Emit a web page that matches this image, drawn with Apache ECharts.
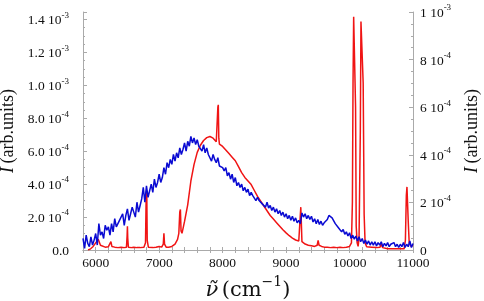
<!DOCTYPE html>
<html>
<head>
<meta charset="utf-8">
<script src="https://cdn.jsdelivr.net/npm/echarts@6/dist/echarts.min.js"></script>
<style>
  html, body { margin: 0; padding: 0; background: #fff; }
  #main { width: 484px; height: 301px; }
</style>
</head>
<body>
<div id="main"></div>
<script>
// blue spectrum, left axis, units of 1e-4, sampled every 25 cm-1 from 5800
var blueStart = 5800;
var blueStep = 25;
var blueValues = [
    0.7, 0.1, 0.9, 0.4, 0.2, 0.8, 0.3, 0.6,
    1.0, 0.3, 1.6, 0.9, 1.1, 0.7, 1.5, 1.2,
    1.4, 0.9, 1.6, 1.1, 1.9, 1.4, 1.3, 1.8,
    1.7, 2.2, 1.5, 2.1, 2.5, 1.8, 2.2, 2.6,
    2.3, 2.0, 2.9, 2.3, 2.7, 3.1, 3.8, 2.9,
    3.9, 3.2, 3.6, 4.0, 3.5, 4.3, 3.8, 4.1,
    4.6, 4.1, 4.4, 5.0, 4.6, 5.3, 5.0, 5.5,
    5.2, 5.8, 5.4, 5.9, 5.6, 6.2, 5.8, 6.1,
    6.5, 6.0, 6.6, 6.3, 6.9, 6.5, 6.8, 6.4,
    6.7, 6.3, 6.4, 6.0, 6.4, 5.9, 6.2, 5.8,
    5.9, 5.4, 5.8, 5.5, 5.3, 5.6, 5.1, 5.2,
    5.0, 4.8, 5.0, 4.5, 4.7, 4.3, 4.6, 4.1,
    4.4, 3.9, 4.1, 3.8, 4.0, 3.6, 3.8, 3.5,
    3.7, 3.3, 3.5, 3.3, 3.4, 3.0, 3.2, 3.0,
    3.1, 2.8, 2.9, 2.6, 2.9, 2.55, 2.7, 2.4,
    2.6, 2.3, 2.5, 2.2, 2.4, 2.1, 2.3, 2.0,
    2.2, 1.9, 2.1, 1.8, 2.05, 1.75, 1.95, 1.65,
    1.8, 1.6, 2.25, 2.0, 2.2, 1.9, 2.1, 1.85,
    2.05, 1.7, 1.9, 1.6, 1.85, 1.55, 1.75, 1.5,
    1.65, 1.75, 1.85, 2.1, 2.2, 1.95, 1.85, 1.6,
    1.65, 1.35, 1.4, 1.1, 1.25, 0.95, 1.1, 0.85,
    1.05, 0.7, 0.9, 0.65, 0.85, 0.55, 0.8, 0.5,
    0.7, 0.4, 0.6, 0.35, 0.55, 0.3, 0.5, 0.3,
    0.5, 0.25, 0.45, 0.3, 0.5, 0.2, 0.4, 0.25,
    0.45, 0.2, 0.35, 0.3, 0.45, 0.2, 0.35, 0.15,
    0.35, 0.2, 0.45, 0.15, 0.35, 0.2, 0.55, 0.15,
    0.4
];

// red spectrum, right axis, units of 1e-4: [wavenumber, intensity]
var redPoints = [
    [5880, 0], [5920, 0.05], [5960, 0.15], [6000, 0.3], [6040, 0.45], [6060, 0.5], [6075, 0.2],
    [6100, 0.15], [6150, 0.12], [6200, 0.14], [6225, 0.2], [6240, 0.35], [6255, 0.15], [6300, 0.12],
    [6350, 0.1], [6400, 0.12], [6450, 0.1], [6485, 0.12], [6495, 0.6], [6500, 1.0], [6505, 0.5],
    [6515, 0.12], [6560, 0.1], [6600, 0.12], [6650, 0.1], [6700, 0.1], [6760, 0.12], [6785, 0.3],
    [6795, 2.2], [6800, 2.5], [6805, 2.4], [6812, 0.4], [6830, 0.12], [6900, 0.1], [6950, 0.12],
    [7000, 0.15], [7040, 0.12], [7065, 0.25], [7075, 0.7], [7085, 0.25], [7110, 0.12], [7150, 0.12],
    [7200, 0.15], [7250, 0.25], [7290, 0.45], [7310, 0.7], [7325, 1.6], [7335, 1.7], [7345, 0.8],
    [7360, 0.7], [7400, 1.2], [7450, 1.9], [7500, 2.9], [7550, 3.6], [7600, 4.1], [7650, 4.4],
    [7700, 4.6], [7750, 4.72], [7800, 4.77], [7850, 4.7], [7900, 4.55], [7915, 4.6], [7925, 6.0],
    [7932, 6.1], [7940, 4.7], [7950, 4.45], [8000, 4.35], [8050, 4.2], [8100, 4.05], [8150, 3.9],
    [8200, 3.75], [8250, 3.5], [8300, 3.25], [8350, 3.05], [8400, 2.9], [8450, 2.75], [8500, 2.5],
    [8550, 2.25], [8600, 2.05], [8650, 1.85], [8700, 1.65], [8750, 1.45], [8800, 1.3], [8850, 1.15],
    [8900, 1.0], [8950, 0.85], [9000, 0.72], [9050, 0.6], [9100, 0.5], [9150, 0.42], [9200, 0.38],
    [9220, 0.4], [9232, 1.8], [9240, 1.2], [9250, 0.35], [9300, 0.25], [9350, 0.2], [9400, 0.18],
    [9450, 0.15], [9490, 0.2], [9505, 0.4], [9520, 0.2], [9560, 0.15], [9600, 0.12], [9650, 0.12],
    [9700, 0.1], [9750, 0.12], [9800, 0.1], [9850, 0.12], [9900, 0.1], [9950, 0.12], [10000, 0.15],
    [10030, 0.3], [10045, 2.0], [10055, 7.0], [10065, 9.8], [10085, 9.8], [10095, 6.0], [10105, 1.0],
    [10120, 0.3], [10135, 0.15], [10150, 0.5], [10170, 5.0], [10180, 9.6], [10200, 9.6], [10215, 7.0],
    [10230, 1.5], [10245, 0.3], [10270, 0.14], [10350, 0.12], [10430, 0.1], [10480, 0.12], [10500, 0.25],
    [10520, 0.1], [10600, 0.05], [10700, 0.05], [10800, 0.05], [10860, 0.05], [10880, 0.4], [10895, 2.3],
    [10905, 2.65], [10915, 2.6], [10925, 1.2], [10940, 0.3], [10970, 0.15], [11000, 0.2]
];

// tick labels: [mantissa, exponent]
var leftTicks = {
    0: ['0.0', ''], 2: ['2.0 10', '-4'], 4: ['4.0 10', '-4'], 6: ['6.0 10', '-4'],
    8: ['8.0 10', '-4'], 10: ['1.0 10', '-3'], 12: ['1.2 10', '-3'], 14: ['1.4 10', '-3']
};
var rightTicks = {
    0: ['0', ''], 2: ['2 10', '-4'], 4: ['4 10', '-4'], 6: ['6 10', '-4'],
    8: ['8 10', '-4'], 10: ['1 10', '-3']
};

var blueData = blueValues.map(function (v, i) {
    return [blueStart + i * blueStep, v];
});

function tickFormatter(table) {
    return function (v) {
        var t = table[Math.round(v * 100) / 100];
        if (!t) return '';
        return t[1] ? '{n|' + t[0] + '}{e|' + t[1] + '}' : '{n|' + t[0] + '}';
    };
}

var serif = '"Liberation Serif", "Times New Roman", serif';
var frame = '#aaaaaa';
var labelRich = {
    n: { fontFamily: serif, fontSize: 13.5, color: '#111', lineHeight: 17, verticalAlign: 'bottom' },
    e: { fontFamily: serif, fontSize: 9, color: '#111', lineHeight: 17, verticalAlign: 'top' }
};
var nameRich = {
    i: { fontFamily: serif, fontSize: 18, fontStyle: 'italic', color: '#111' },
    t: { fontFamily: serif, fontSize: 18, color: '#111' }
};

var chart = echarts.init(document.getElementById('main'), null, { renderer: 'canvas' });

var option = {
    animation: false,
    backgroundColor: '#fff',
    grid: { left: 83, right: 71, top: 12, bottom: 51, outerBoundsMode: 'none', containLabel: false },
    xAxis: [{
        type: 'value',
        min: 5800,
        max: 11000,
        interval: 200,
        name: '{nu|ν\u0303} {t|(cm}{e|\u22121}{t|)}',
        nameLocation: 'middle',
        nameGap: 22,
        nameTextStyle: {
            rich: {
                nu: { fontFamily: 'DejaVu Serif', fontSize: 21, fontStyle: 'italic', color: '#111', lineHeight: 26, verticalAlign: 'bottom' },
                t: { fontFamily: 'DejaVu Serif', fontSize: 21, color: '#111', lineHeight: 26, verticalAlign: 'bottom' },
                e: { fontFamily: 'DejaVu Serif', fontSize: 14, color: '#111', lineHeight: 26, verticalAlign: 'top' }
            }
        },
        axisLine: { show: true, lineStyle: { color: frame, width: 1 } },
        axisTick: { show: true, inside: true, length: 3, lineStyle: { color: frame } },
        splitLine: { show: false },
        axisLabel: {
            margin: 6,
            fontFamily: serif,
            fontSize: 13.5,
            color: '#111',
            formatter: function (v) { return v % 1000 === 0 ? String(v) : ''; }
        }
    }, {
        type: 'value',
        position: 'top',
        min: 5800,
        max: 11000,
        interval: 200,
        axisLine: { show: true, lineStyle: { color: frame, width: 1 } },
        axisTick: { show: true, inside: true, length: 3, lineStyle: { color: frame } },
        axisLabel: { show: false },
        splitLine: { show: false }
    }],
    yAxis: [{
        type: 'value',
        position: 'left',
        min: 0,
        max: 14.45,
        interval: 2,
        name: '{i|I} {t|(arb.units)}',
        nameLocation: 'middle',
        nameRotate: 90,
        nameGap: 63,
        nameTextStyle: { rich: nameRich },
        axisLine: { show: true, lineStyle: { color: frame, width: 1 } },
        axisTick: { show: true, inside: true, length: 4, lineStyle: { color: frame } },
        minorTick: { show: true, splitNumber: 4, length: 2, lineStyle: { color: frame } },
        splitLine: { show: false },
        axisLabel: {
            margin: 14,
            showMaxLabel: false,
            formatter: tickFormatter(leftTicks),
            rich: labelRich
        }
    }, {
        type: 'value',
        position: 'right',
        min: 0,
        max: 10,
        interval: 2,
        name: '{i|I} {t|(arb.units)}',
        nameLocation: 'middle',
        nameRotate: 90,
        nameGap: 50,
        nameTextStyle: { rich: nameRich },
        axisLine: { show: true, lineStyle: { color: frame, width: 1 } },
        axisTick: { show: true, inside: true, length: 4, lineStyle: { color: frame } },
        minorTick: { show: true, splitNumber: 4, length: 2, lineStyle: { color: frame } },
        splitLine: { show: false },
        axisLabel: {
            margin: 7,
            formatter: tickFormatter(rightTicks),
            rich: labelRich
        }
    }],
    series: [{
        name: 'blue',
        type: 'line',
        xAxisIndex: 0,
        yAxisIndex: 0,
        data: blueData,
        showSymbol: false,
        symbol: 'none',
        lineStyle: { color: '#0a0ad2', width: 1.5 },
        clip: true,
        z: 3
    }, {
        name: 'red',
        type: 'line',
        xAxisIndex: 0,
        yAxisIndex: 1,
        data: redPoints,
        showSymbol: false,
        symbol: 'none',
        lineStyle: { color: '#f01414', width: 1.5 },
        clip: true,
        z: 2
    }]
};

chart.setOption(option);
</script>
</body>
</html>
